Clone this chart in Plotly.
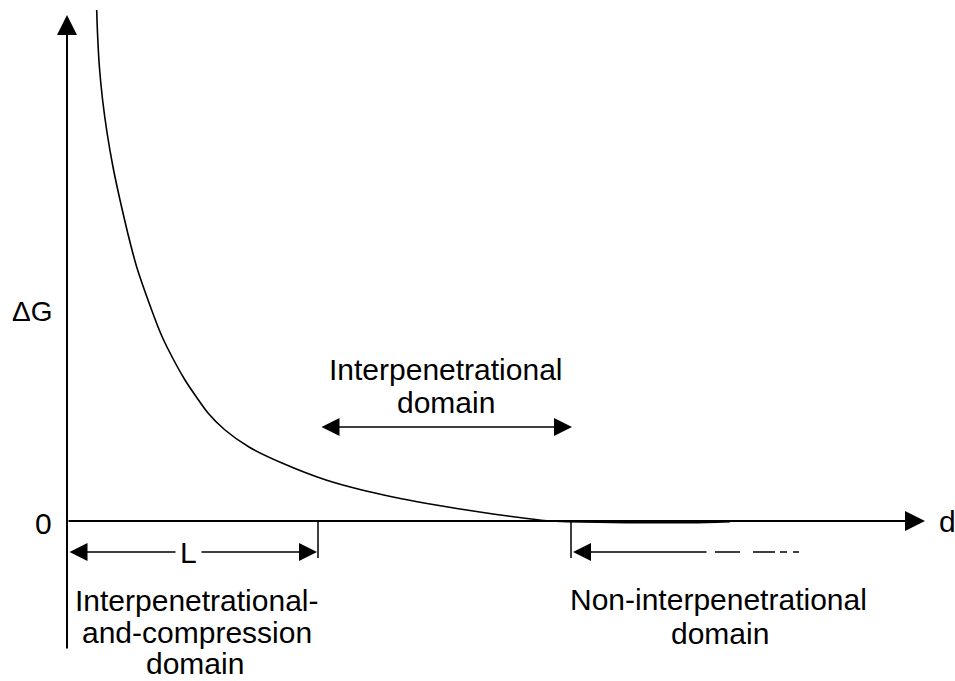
import plotly.graph_objects as go

# Curve data (d, ΔG) in schematic units
curve_d = [29.7, 30.5, 32.4, 35.6, 40.1, 46, 53, 60.7, 69.7, 81, 93.5, 100, 118, 141, 158, 182, 215, 259, 293, 326, 360, 393, 426, 460, 480, 500, 560, 626, 663]
curve_G = [511, 488, 454, 421, 388, 354, 321, 288, 254, 221, 188, 174, 141, 108, 91, 74, 58, 41, 31.5, 24, 17.5, 12, 7, 2.5, 0.3, -0.7, -1.6, -1.6, -0.6]

# Axis extents
d_max = 858
G_top = 506
G_bottom = -129

# Domain boundaries
L_end = 251
interp_end = 504
interp_arrow = [253, 505]
interp_arrow_G = 94
dim_G = -31
tick_low = -37
nonint_solid_end = 641
nonint_dash = [648, 732]

FONT = dict(family="Liberation Sans, Arial, sans-serif", size=30, color="black")

fig = go.Figure()

fig.add_trace(go.Scatter(x=curve_d, y=curve_G, mode="lines",
                         line=dict(color="black", width=1.6, shape="spline", smoothing=0.6),
                         hoverinfo="skip", showlegend=False))

# boundary ticks
fig.add_trace(go.Scatter(x=[L_end, L_end], y=[0, tick_low], mode="lines",
                         line=dict(color="black", width=1.5), showlegend=False, hoverinfo="skip"))
fig.add_trace(go.Scatter(x=[interp_end, interp_end], y=[0, tick_low], mode="lines",
                         line=dict(color="black", width=1.5), showlegend=False, hoverinfo="skip"))
# dashed continuation
fig.add_trace(go.Scatter(x=nonint_dash, y=[dim_G, dim_G], mode="lines",
                         line=dict(color="black", width=1.5, dash="25px,13px,22px,5px,7px,6px,6px,40px"),
                         showlegend=False, hoverinfo="skip"))

def arrow(x, y, ax, ay, width, size, both=False):
    d = dict(x=x, y=y, ax=ax, ay=ay, xref="x", yref="y", axref="x", ayref="y",
             text="", showarrow=True, arrowhead=2, arrowsize=size, arrowwidth=width,
             arrowcolor="black", standoff=0, startstandoff=0)
    if both:
        d.update(arrowside="end+start", startarrowhead=2, startarrowsize=size)
    fig.add_annotation(**d)

# axes
arrow(0, G_top, 0, G_bottom, 2, 2.0)
arrow(d_max, 0, 0, 0, 2, 2.0)
# L
arrow(L_end - 1, dim_G, 1, dim_G, 1.5, 2.4, both=True)
# interpenetrational domain
arrow(interp_arrow[1], interp_arrow_G, interp_arrow[0], interp_arrow_G, 1.5, 2.4, both=True)
# non-interpenetrational
arrow(interp_end + 2, dim_G, nonint_solid_end, dim_G, 1.5, 2.4)

def label(x, y, text, size=30):
    f = dict(FONT); f["size"] = size
    fig.add_annotation(x=x, y=y, xref="x", yref="y", text=text, showarrow=False,
                       font=f, xanchor="center", yanchor="middle")

# L label with white background to break the line
fig.add_annotation(x=121, y=dim_G, xref="x", yref="y", text="L", showarrow=False,
                   font=FONT, bgcolor="white", borderpad=4, xanchor="center", yanchor="middle")

label(-35, 521 - 311, "ΔG", 28)
label(-24, -2, "0")
label(880, 0, "d")

label(379, 521 - 369, "Interpenetrational")
label(379, 521 - 402, "domain")

label(130, 521 - 600, "Interpenetrational-")
label(130, 521 - 632, "and-compression")
label(128, 521 - 663, "domain")

label(651, 521 - 599, "Non-interpenetrational")
label(653, 521 - 633, "domain")

fig.update_layout(
    width=955, height=681, margin=dict(l=0, r=0, t=0, b=0),
    paper_bgcolor="white", plot_bgcolor="white", showlegend=False,
    xaxis=dict(range=[-67, 888], visible=False, fixedrange=True),
    yaxis=dict(range=[-160, 521], visible=False, fixedrange=True),
)

fig.write_html("out.html", config={"displayModeBar": False},
               post_script="document.body.style.margin='0';document.body.style.overflow='hidden';")
